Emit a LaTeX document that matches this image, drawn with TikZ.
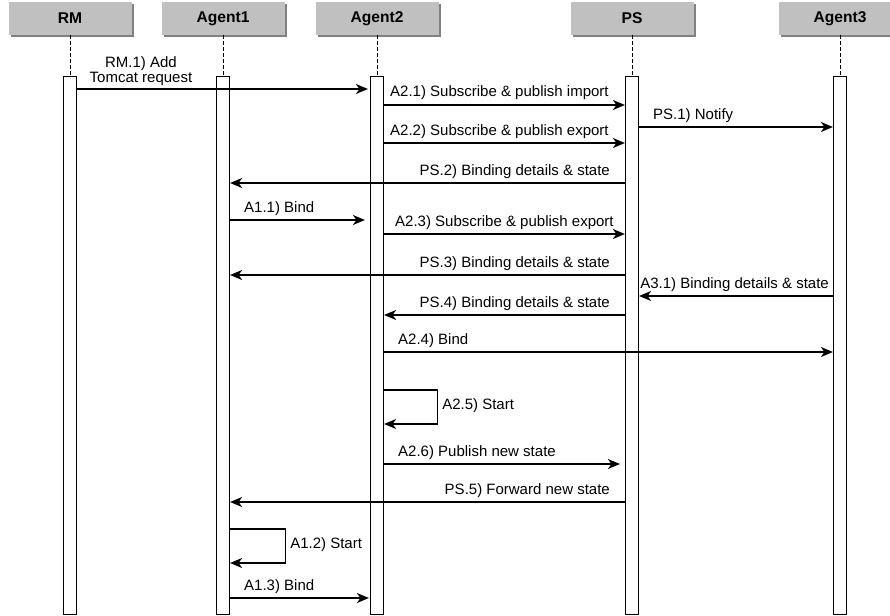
\documentclass[tikz,border=0pt]{standalone}
\usepackage{fontspec}
\setmainfont{Liberation Sans}
\usepackage{xcolor}
\usetikzlibrary{arrows.meta,positioning,shadows}

\definecolor{headgray}{RGB}{192,192,192}
\definecolor{shadowgray}{RGB}{128,128,128}

\begin{document}
\begin{tikzpicture}[x=1pt,y=-1pt,>={Stealth[length=12pt,width=10pt,inset=3.5pt]},
        head/.style={fill=headgray,minimum width=123pt,minimum height=33pt,inner sep=0pt,
                font=\fontsize{15.6}{18}\selectfont\bfseries,
                drop shadow={shadow xshift=2pt,shadow yshift=-2pt,fill=shadowgray,opacity=1}},
        bar/.style={draw,fill=white,line width=1.2pt,minimum width=13pt,minimum height=538pt,
                inner sep=0pt,anchor=north},
        life/.style={line width=1pt,dash pattern=on 4pt off 2pt},
        msg/.style={->,line width=1.1pt},
        lbl/.style={inner sep=0pt,font=\fontsize{15}{15}\selectfont}]
        \useasboundingbox (0,0) rectangle (890,615);
        \clip (0,0) rectangle (890,615);

        % draw the heads, lifelines and activation bars
        \foreach \n/\x/\t in {rm/70/RM,aone/223/Agent1,atwo/377/Agent2,ps/632/PS,athree/840/Agent3} {
                \node[head] (\n) at (\x,18.5) {\t};
                \node[bar] (bar-\n) at (\x,76) {};
                \draw[life] (\n.south) -- (bar-\n.north);
        }

        % the request from RM
        \draw[msg,shorten >=2pt] (bar-rm.east |- 0,89) -- (bar-atwo.west |- 0,89);
        \node[lbl,align=center,anchor=south] (rmreq) at (141,86) {RM.1) Add\\Tomcat request};

        % draw the messages between the bars
        \foreach \y/\a/\b/\s/\lx/\anc/\txt [count=\i] in {
            105/atwo.east/ps.west/0/390/west/{A2.1) Subscribe \& publish import},
            127/ps.east/athree.west/0/653/west/{PS.1) Notify},
            143/atwo.east/ps.west/0/390/west/{A2.2) Subscribe \& publish export},
            183/ps.west/aone.east/0/610/east/{PS.2) Binding details \& state},
            220/aone.east/atwo.west/5/244/west/{A1.1) Bind},
            234/atwo.east/ps.west/0/395/west/{A2.3) Subscribe \& publish export},
            275/ps.west/aone.east/0/610/east/{PS.3) Binding details \& state},
            296/athree.west/ps.east/0/829/east/{A3.1) Binding details \& state},
            315/ps.west/atwo.east/0/610/east/{PS.4) Binding details \& state},
            352/atwo.east/athree.west/0/398/west/{A2.4) Bind},
            464/atwo.east/ps.west/5/398/west/{A2.6) Publish new state},
            502/ps.west/aone.east/0/610/east/{PS.5) Forward new state},
            598/aone.east/atwo.west/1/244/west/{A1.3) Bind}} {
                \draw[msg,shorten >=\s pt] (bar-\a |- 0,\y) -- (bar-\b |- 0,\y);
                \node[lbl,anchor=base \anc] (msg\i) at (\lx,\y-8) {\txt};
        }

        % draw the self calls
        \foreach \n/\y/\w/\txt in {atwo/390/53/{A2.5) Start},aone/529/55/{A1.2) Start}} {
                \draw[msg] (bar-\n.east |- 0,\y) -- ++(\w,0) coordinate (turn-\n)
                        -- ++(0,34) -- (bar-\n.east |- 0,\y+34);
                \node[lbl,anchor=base west] (self-\n) at ([xshift=5pt,yshift=-19pt]turn-\n) {\txt};
        }
\end{tikzpicture}
\end{document}
